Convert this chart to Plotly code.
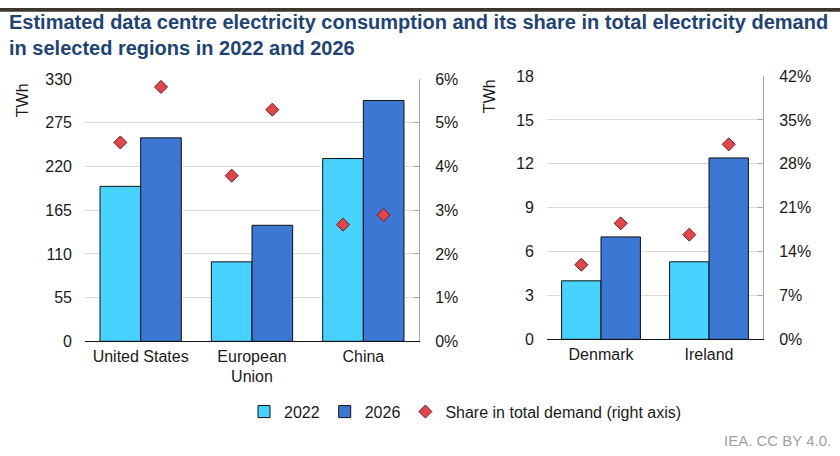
import plotly.graph_objects as go

# Data
regions_a = ["United States", "European<br>Union", "China"]
twh_2022_a = [195, 100, 230]
twh_2026_a = [256, 146, 303]
share_2022_a = [0.0455, 0.0379, 0.0267]
share_2026_a = [0.0582, 0.0530, 0.0289]

regions_b = ["Denmark", "Ireland"]
twh_2022_b = [4.0, 5.3]
twh_2026_b = [7.0, 12.4]
share_2022_b = [0.119, 0.167]
share_2026_b = [0.185, 0.311]

left_ticks = [0, 55, 110, 165, 220, 275, 330]
right_ticks = [0, 3, 6, 9, 12, 15, 18]

# Styles
W, H = 840, 456
c2022 = "#48D2FF"
c2026 = "#3B77D3"
cshare = "#E0474C"
band = "#3d362c"
font = "Liberation Sans"
txt = "#1a1a1a"

fig = go.Figure()

panels = [
    ("x", "y", "y2", regions_a, twh_2022_a, twh_2026_a, share_2022_a, share_2026_a, True),
    ("x2", "y3", "y4", regions_b, twh_2022_b, twh_2026_b, share_2022_b, share_2026_b, False),
]
for xa, ya, ya2, cats, v22, v26, s22, s26, legend in panels:
    fig.add_trace(go.Bar(x=cats, y=v22, name="2022", legendgroup="2022", showlegend=legend,
                         marker=dict(color=c2022, line=dict(color="#111", width=1)),
                         offsetgroup="a", xaxis=xa, yaxis=ya))
    fig.add_trace(go.Bar(x=cats, y=v26, name="2026", legendgroup="2026", showlegend=legend,
                         marker=dict(color=c2026, line=dict(color="#111", width=1)),
                         offsetgroup="b", xaxis=xa, yaxis=ya))
    fig.add_trace(go.Scatter(x=cats, y=s22, mode="markers", name="Share in total demand (right axis)",
                             legendgroup="share", showlegend=legend, offsetgroup="a",
                             marker=dict(symbol="diamond", size=10, color=cshare,
                                         line=dict(color="#6b1a1a", width=1)),
                             xaxis=xa, yaxis=ya2))
    fig.add_trace(go.Scatter(x=cats, y=s26, mode="markers", name="Share",
                             legendgroup="share", showlegend=False, offsetgroup="b",
                             marker=dict(symbol="diamond", size=10, color=cshare,
                                         line=dict(color="#6b1a1a", width=1)),
                             xaxis=xa, yaxis=ya2))

def px_x(p):
    return p / W

# the photographed page comes out a bit squashed vertically, so undo that
def px_y(p):
    p = (p - 9.3) / 0.958
    return 1 - p / H

xcommon = dict(showline=True, linecolor="#111", linewidth=1, ticks="",
               tickfont=dict(size=16, color=txt), fixedrange=True)
ycommon = dict(showgrid=True, gridcolor="#DADADA", gridwidth=1, zeroline=False,
               showline=False, ticks="", tickfont=dict(size=16, color=txt),
               ticklabelstandoff=12, fixedrange=True)
yright = dict(showgrid=False, zeroline=False, showline=True, linecolor="#A6A6A6",
              ticks="inside", ticklen=5, tickcolor="#A6A6A6", tickformat=".0%",
              tickfont=dict(size=16, color=txt), ticklabelstandoff=12, side="right",
              fixedrange=True)

fig.update_layout(
    width=W, height=H,
    margin=dict(l=0, r=0, t=0, b=0),
    paper_bgcolor="white", plot_bgcolor="white",
    font=dict(family=font, color=txt),
    barmode="group", bargap=0.27, bargroupgap=0,
    scattermode="group",
    hovermode=False,
    xaxis=dict(domain=[px_x(85), px_x(419)], anchor="y", **xcommon),
    xaxis2=dict(domain=[px_x(547), px_x(763)], anchor="y3", **xcommon),
    yaxis=dict(domain=[px_y(341), px_y(80)], range=[0, 330], tickvals=left_ticks, anchor="x", **ycommon),
    yaxis2=dict(overlaying="y", anchor="x", range=[0, 0.06], dtick=0.01, **yright),
    yaxis3=dict(domain=[px_y(339), px_y(77)], range=[0, 18], tickvals=right_ticks, anchor="x2", **ycommon),
    yaxis4=dict(overlaying="y3", anchor="x2", range=[0, 0.42], dtick=0.07, **yright),
    legend=dict(orientation="h", x=px_x(244), y=px_y(411), xanchor="left", yanchor="middle",
                font=dict(size=16, color=txt), itemwidth=30, traceorder="normal"),
    # thin strip of the page header photo at the very top
    shapes=[dict(type="rect", xref="paper", yref="paper", x0=0, x1=1, y0=1 - 4 / H, y1=1,
                 fillcolor=band, line=dict(width=0), layer="below")],
    annotations=[
        dict(text="Estimated data centre electricity consumption and its share in total electricity demand"
                  "<br>in selected regions in 2022 and 2026",
             xref="paper", yref="paper", x=px_x(7), y=px_y(36), xanchor="left", yanchor="middle",
             align="left", showarrow=False,
             font=dict(size=20, color="#1F4471", family=font, weight="bold")),
        dict(text="TWh", textangle=-90, xref="paper", yref="paper", x=px_x(22), y=px_y(101),
             xanchor="center", yanchor="middle",
             showarrow=False, font=dict(size=16, color=txt)),
        dict(text="TWh", textangle=-90, xref="paper", yref="paper", x=px_x(489), y=px_y(97),
             xanchor="center", yanchor="middle",
             showarrow=False, font=dict(size=16, color=txt)),
        dict(text="IEA. CC BY 4.0.", xref="paper", yref="paper", x=px_x(833), y=px_y(440),
             xanchor="right", yanchor="middle", showarrow=False,
             font=dict(size=15, color="#A0A0A0")),
    ],
)

fig.write_html("out.html", config={"displayModeBar": False},
               post_script="document.body.style.margin='0';"
                           "document.documentElement.style.overflow='hidden';")
